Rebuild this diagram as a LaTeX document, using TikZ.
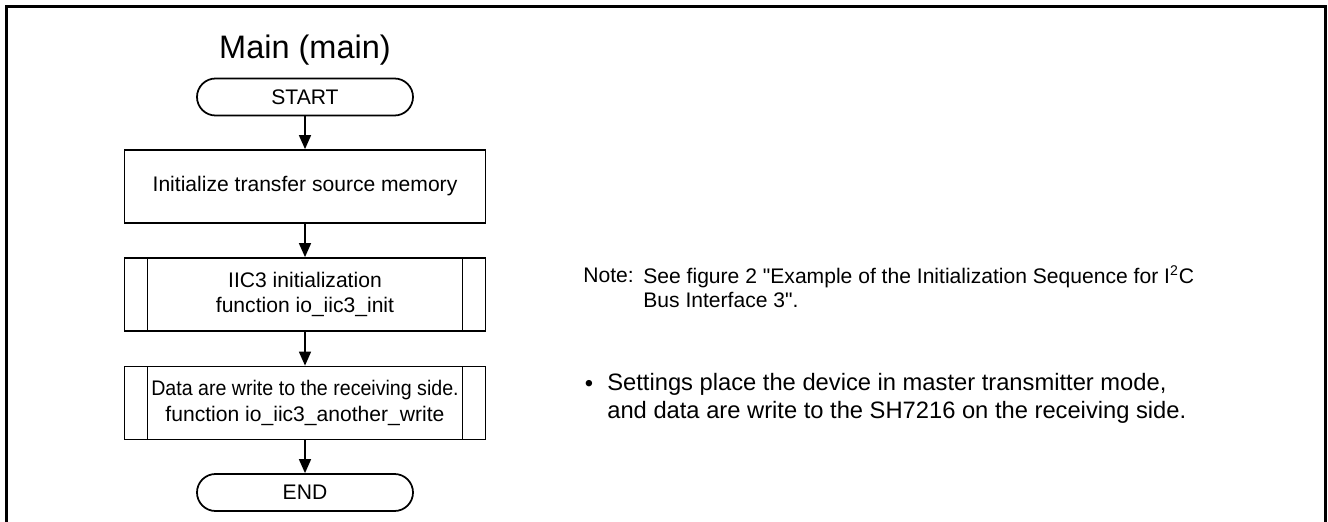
\documentclass[tikz,border=0pt]{standalone}
\usepackage{fontspec}
\setmainfont{Liberation Sans}
\usetikzlibrary{arrows.meta}

\begin{document}
\begin{tikzpicture}[x=0.2mm, y=-0.2mm,
	>={Triangle[width=2.4mm,length=2.8mm]},
	term/.style={draw, line width=0.35mm, rounded corners=3.7mm, minimum width=43.2mm, minimum height=7.4mm, inner sep=0pt, font=\fontsize{12}{14}\selectfont},
	proc/.style={draw, line width=0.35mm, minimum width=72.2mm, minimum height=14.6mm, inner sep=0pt, align=center, font=\fontsize{12}{14.7}\selectfont},
	predef/.style={proc, path picture={
		\draw[line width=0.35mm] ([xshift=4.6mm]path picture bounding box.north west) -- ([xshift=4.6mm]path picture bounding box.south west)
			([xshift=-4.6mm]path picture bounding box.north east) -- ([xshift=-4.6mm]path picture bounding box.south east);}},
	flow/.style={->, line width=0.3mm},
	note/.style={anchor=base west, align=left, inner sep=0pt, font=\fontsize{12}{13.6}\selectfont}]

		\useasboundingbox (0,0) rectangle (1328,522);
		\draw[line width=0.6mm] (6,522) -- (6,7) -- (1325,7) -- (1325,522);

		\node[font=\fontsize{18.5}{22}\selectfont] (title) at (305,50) {Main (main)};

		\node[term] (start) at (305,97) {START};
		\node[proc] (init) at (305,186.5) {Initialize transfer source memory};
		\node[predef] (iicinit) at (305,294.5) {IIC3 initialization\\function io\_iic3\_init};
		\node[predef] (write) at (305,403) {\scalebox{0.93}[1]{Data are write to the receiving side.}\\function io\_iic3\_another\_write};
		\node[term] (end) at (305,492.5) {END};

		\draw[flow] (start) -- (init);
		\draw[flow] (init) -- (iicinit);
		\draw[flow] (iicinit) -- (write);
		\draw[flow] (write) -- (end);

		% base of a two-line node is its last line
		\node[note] (notelbl) at (583,283) {Note:};
		\node[note] (notetxt) at (643,307) {See figure 2 \textquotedbl Example of the Initialization Sequence for I\textsuperscript{2}C\\Bus Interface 3\textquotedbl.};

		\node[anchor=base, inner sep=0pt, font=\fontsize{13.5}{15.4}\selectfont] (dot) at (589,391) {\textbullet};
		\node[note, font=\fontsize{13.5}{15.4}\selectfont] (settings) at (607,418) {Settings place the device in master transmitter mode,\\and data are write to the SH7216 on the receiving side.};
	\end{tikzpicture}
\end{document}
